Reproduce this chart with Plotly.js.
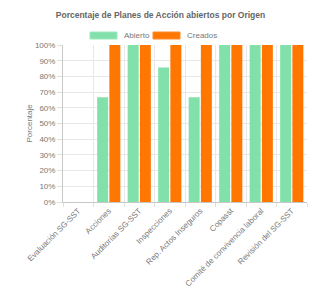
<!DOCTYPE html>
<html>
<head>
<meta charset="utf-8">
<script src="https://cdn.plot.ly/plotly-3.0.1.min.js"></script>
<style>html,body{margin:0;padding:0;background:#fff;}#chart{width:321px;height:290px;}</style>
</head>
<body>
<div id="chart"></div>
<script>
const categories = ["Evaluación SG-SST", "Acciones", "Auditorías SG-SST", "Inspecciones", "Rep. Actos Inseguros", "Copasst", "Comité de convivencia laboral", "Revisión del SG-SST"];
const abierto = [0, 66.67, 100, 85.71, 66.67, 100, 100, 100];
const creados = [0, 100, 100, 100, 100, 100, 100, 100];
const seriesNames = ["Abierto", "Creados"];
const yTickVals = [0,10,20,30,40,50,60,70,80,90,100];
const yTickText = yTickVals.map(v => v + "%");
const yTitle = "Porcentaje";

const green = "#82e0aa", orange = "#ff7700";
const fam = "Liberation Sans, Arial, sans-serif";
const font = {family: fam, size: 8, color: "#777"};

const traces = [
  {type: "bar", name: seriesNames[0], x: categories, y: abierto,
   marker: {color: green, line: {width: 0}}, hoverinfo: "skip"},
  {type: "bar", name: seriesNames[1], x: categories, y: creados,
   marker: {color: orange, line: {width: 0}}, hoverinfo: "skip"}
];

const layout = {
  width: 321, height: 290,
  margin: {l: 63, r: 14, t: 45, b: 88},
  paper_bgcolor: "#fff", plot_bgcolor: "#fff",
  font: font,
  showlegend: false,
  barmode: "group", bargap: 0.2, bargroupgap: 0.1,
  title: {text: "<b>Porcentaje de Planes de Acción abiertos por Origen</b>",
          font: {family: fam, size: 8.5, color: "#666"},
          x: 0.5, xanchor: "center", y: 1 - 15/290, yanchor: "middle"},
  xaxis: {type: "category", tickson: "boundaries", showgrid: true, gridcolor: "#e8e8e8",
          ticks: "outside", ticklen: 4, tickcolor: "#e0e0e0",
          showline: true, linecolor: "#c8c8c8", linewidth: 1,
          tickangle: -45, tickfont: font, fixedrange: true},
  yaxis: {range: [0, 100], tickvals: yTickVals, ticktext: yTickText,
          showgrid: true, gridcolor: "#e8e8e8", zeroline: false,
          ticks: "outside", ticklen: 5, tickcolor: "#e0e0e0",
          showline: true, linecolor: "#c8c8c8", linewidth: 1,
          tickfont: font, fixedrange: true},
  shapes: [
    {type: "rect", xref: "paper", yref: "paper", x0: (90-63)/244, x1: (117-63)/244, y0: (202-39)/157, y1: (202-32)/157,
     fillcolor: green, line: {color: "#9be8bc", width: 1}},
    {type: "rect", xref: "paper", yref: "paper", x0: (153-63)/244, x1: (180-63)/244, y0: (202-39)/157, y1: (202-32)/157,
     fillcolor: orange, line: {color: "#ff8c2a", width: 1}}
  ],
  annotations: [
    {xref: "paper", yref: "paper", x: (122-63)/244, y: (202-35.5)/157, xanchor: "left", yanchor: "middle",
     text: seriesNames[0], showarrow: false, font: font},
    {xref: "paper", yref: "paper", x: (185-63)/244, y: (202-35.5)/157, xanchor: "left", yanchor: "middle",
     text: seriesNames[1], showarrow: false, font: font},
    {xref: "paper", yref: "paper", x: (29-63)/244, y: 0.5, xanchor: "center", yanchor: "middle",
     textangle: -90, text: yTitle, showarrow: false, font: font}
  ]
};

Plotly.newPlot("chart", traces, layout, {displayModeBar: false, staticPlot: true});
</script>
</body>
</html>
